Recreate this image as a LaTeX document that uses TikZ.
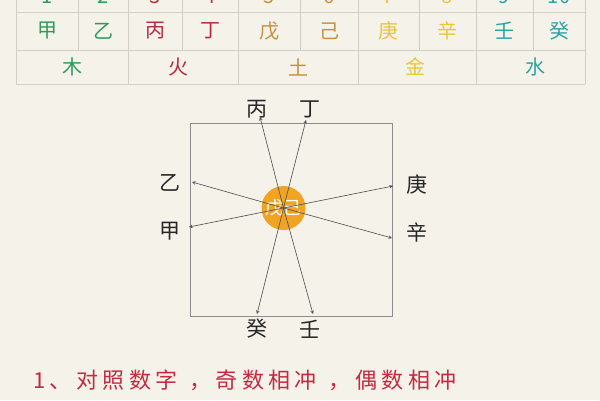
\documentclass[tikz,border=0pt]{standalone}
\usepackage{fontspec}
\setmainfont{Noto Sans CJK SC}
\usepackage{xcolor}
\usepackage{tikz}
\usetikzlibrary{arrows}
\definecolor{paper}{HTML}{F5F2EA}
\definecolor{gridgray}{HTML}{D3CEC5}
\definecolor{mu}{HTML}{2E9A5C}
\definecolor{huo}{HTML}{B82A3E}
\definecolor{tu}{HTML}{C8913A}
\definecolor{jin}{HTML}{E8C63C}
\definecolor{shui}{HTML}{2BA3A3}
\definecolor{note}{HTML}{C42A40}
\definecolor{sun}{HTML}{F1A324}
\tikzstyle{gridline} = [gridgray, line width=0.8pt]
\tikzstyle{boundingbox} = [line width=0.7pt, black!45]
\tikzstyle{arrow} = [draw, -stealth, line width=0.6pt, black!70]
\tikzstyle{cell} = [font=\fontsize{20}{20}\selectfont]
\tikzstyle{branch} = [font=\fontsize{21}{21}\selectfont, black!85]

\begin{document}
\begin{tikzpicture}[x=1pt, y=-1pt]
\fill[paper] (0, 0) rectangle (600, 400);
\useasboundingbox (0, 0) rectangle (600, 400);
\clip (0, 0) rectangle (600, 400);

%% table
\draw[gridline] (16, -30) -- (16, 84);
\draw[gridline] (585, -30) -- (585, 84);
\draw[gridline] (16, 12.5) -- (585, 12.5);
\draw[gridline] (16, 50) -- (585, 50);
\draw[gridline] (16, 84) -- (585, 84);
\draw[gridline] (78, -30) -- (78, 50);
\draw[gridline] (128, -30) -- (128, 84);
\draw[gridline] (182, -30) -- (182, 50);
\draw[gridline] (238, -30) -- (238, 84);
\draw[gridline] (300, -30) -- (300, 50);
\draw[gridline] (358, -30) -- (358, 84);
\draw[gridline] (419, -30) -- (419, 50);
\draw[gridline] (476, -30) -- (476, 84);
\draw[gridline] (533, -30) -- (533, 50);

% numbers
\node[cell, mu] (n1) at (47, -3.5) {1};
\node[cell, mu] (n2) at (103, -3.5) {2};
\node[cell, huo] (n3) at (155, -3.5) {3};
\node[cell, huo] (n4) at (210, -3.5) {4};
\node[cell, tu] (n5) at (269, -3.5) {5};
\node[cell, tu] (n6) at (329, -3.5) {6};
\node[cell, jin] (n7) at (388, -3.5) {7};
\node[cell, jin] (n8) at (447, -3.5) {8};
\node[cell, shui] (n9) at (504, -3.5) {9};
\node[cell, shui] (n10) at (559, -3.5) {10};

% stems
\node[cell, mu] (jia) at (47, 31) {甲};
\node[cell, mu] (yi) at (103, 31) {乙};
\node[cell, huo] (bing) at (155, 31) {丙};
\node[cell, huo] (ding) at (210, 31) {丁};
\node[cell, tu] (wu) at (269, 31) {戊};
\node[cell, tu] (ji) at (329, 31) {己};
\node[cell, jin] (geng) at (388, 31) {庚};
\node[cell, jin] (xin) at (447, 31) {辛};
\node[cell, shui] (ren) at (504, 31) {壬};
\node[cell, shui] (gui) at (559, 31) {癸};

% elements
\node[cell, mu] (wood) at (72, 67) {木};
\node[cell, huo] (fire) at (178, 67) {火};
\node[cell, tu] (earth) at (298, 67) {土};
\node[cell, jin] (metal) at (415, 67) {金};
\node[cell, shui] (water) at (535, 67) {水};

%% clash square
\draw[boundingbox] (190, 123) rectangle (392, 316);
\node[circle, fill=sun, minimum size=44pt, inner sep=0pt, text=white,
    font=\fontsize{18}{18}\selectfont] (center) at (283.5, 208) {戊己};

\coordinate (bingtip) at (260, 117);
\coordinate (dingtip) at (306, 120);
\coordinate (yitip) at (192, 182);
\coordinate (jiatip) at (189, 227);
\coordinate (gengtip) at (393, 186);
\coordinate (xintip) at (392, 238);
\coordinate (guitip) at (257, 314);
\coordinate (rentip) at (313, 314);

\draw[arrow] (center.center) -- (bingtip);
\draw[arrow] (center.center) -- (rentip);
\draw[arrow] (center.center) -- (dingtip);
\draw[arrow] (center.center) -- (guitip);
\draw[arrow] (center.center) -- (yitip);
\draw[arrow] (center.center) -- (xintip);
\draw[arrow] (center.center) -- (jiatip);
\draw[arrow] (center.center) -- (gengtip);

\node[branch] (bingl) at (257, 109) {丙};
\node[branch] (dingl) at (310, 109) {丁};
\node[branch] (yil) at (170, 183) {乙};
\node[branch] (jial) at (170, 231) {甲};
\node[branch] (gengl) at (417, 185) {庚};
\node[branch] (xinl) at (417, 232) {辛};
\node[branch] (guil) at (257, 329) {癸};
\node[branch] (renl) at (310, 329) {壬};

%% note
\node[anchor=west, note, inner sep=0pt,
    font=\fontsize{22}{22}\selectfont\addfontfeature{LetterSpace=20}] (rule) at (33, 380)
    {1、对照数字\hspace{12pt}，奇数相冲\hspace{12pt}，偶数相冲};
\end{tikzpicture}
\end{document}
